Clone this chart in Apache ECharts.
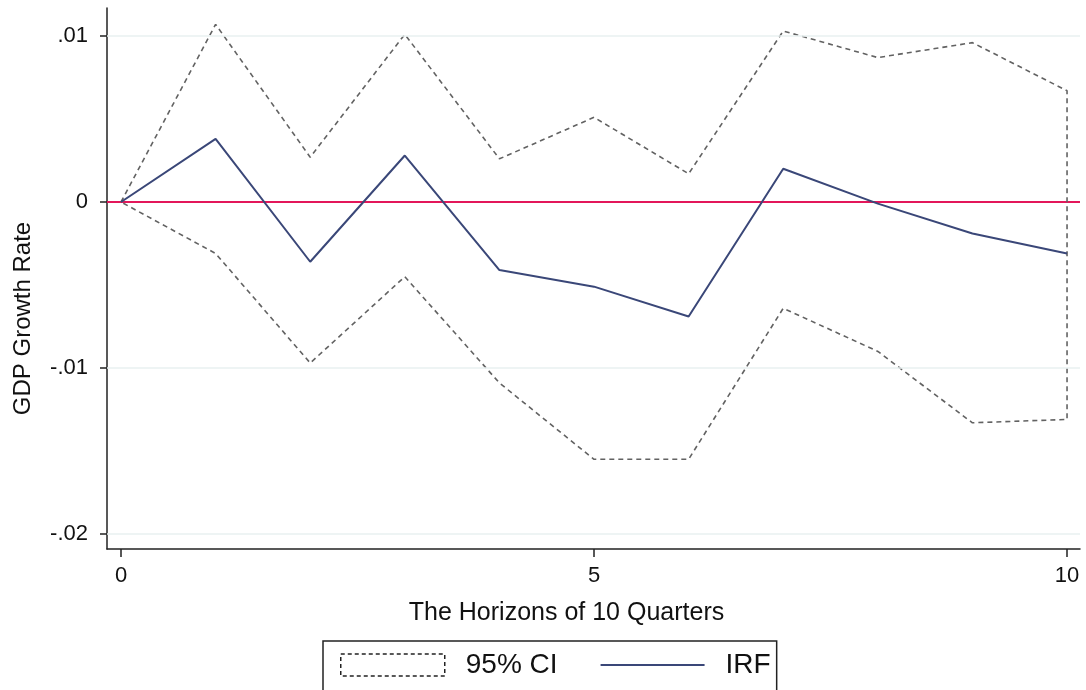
<!DOCTYPE html>
<html>
<head>
<meta charset="utf-8">
<script src="https://cdn.jsdelivr.net/npm/echarts@6/dist/echarts.min.js"></script>
<style>
html,body{margin:0;padding:0;background:#fff;}
#chart{width:1086px;height:690px;}
</style>
</head>
<body>
<div id="chart"></div>
<script>
// ---- data ----
const horizons = [0, 1, 2, 3, 4, 5, 6, 7, 8, 9, 10];
const irf      = [0, 0.0038, -0.0036, 0.0028, -0.0041, -0.0051, -0.0069, 0.0020, -0.0001, -0.0019, -0.0031];
const ciUpper  = [0, 0.0107, 0.0027, 0.0101, 0.0026, 0.0051, 0.0017, 0.0103, 0.0087, 0.0096, 0.0067];
const ciLower  = [0, -0.0031, -0.0097, -0.0045, -0.0109, -0.0155, -0.0155, -0.0064, -0.0090, -0.0133, -0.0131];
const xTickValues = [0, 5, 10];
const xTickLabels = ['0', '5', '10'];
const yTickValues = [-0.02, -0.01, 0, 0.01];
const yTickLabels = ['-.02', '-.01', '0', '.01'];
const gridValues  = [-0.02, -0.01, 0.01];
const seriesNames = ['95% CI', 'IRF'];

// closed CI outline: upper band left->right, then lower band right->left
const ciOutline = horizons.map((h, i) => [h, ciUpper[i]])
  .concat(horizons.slice().reverse().map(h => [h, ciLower[horizons.indexOf(h)]]));
const irfData = horizons.map((h, i) => [h, irf[i]]);

const font = 'Liberation Sans, Arial, sans-serif';
const chart = echarts.init(document.getElementById('chart'), null, {renderer: 'canvas'});
chart.setOption({
  animation: false,
  backgroundColor: '#ffffff',
  grid: {left: 107, right: 6, top: 8, bottom: 141},
  xAxis: {
    type: 'value',
    min: -0.148, max: 10.137,
    name: 'The Horizons of 10 Quarters',
    nameLocation: 'middle',
    nameGap: 52,
    nameTextStyle: {fontFamily: font, fontSize: 25, color: '#111', padding: [0, 54, 0, 0]},
    axisLine: {show: true, onZero: false, lineStyle: {color: '#222', width: 1.5}},
    axisTick: {show: true, length: 8, customValues: xTickValues, lineStyle: {color: '#222', width: 1.5}},
    axisLabel: {
      customValues: xTickValues, margin: 16,
      fontFamily: font, fontSize: 22, color: '#111',
      formatter: v => xTickLabels[xTickValues.indexOf(v)]
    },
    splitLine: {show: false}
  },
  yAxis: {
    type: 'value',
    min: -0.020904, max: 0.011687,
    name: 'GDP Growth Rate',
    nameLocation: 'middle',
    nameGap: 72,
    nameRotate: 90,
    nameTextStyle: {fontFamily: font, fontSize: 24, color: '#111', padding: [0, 80, 0, 0]},
    axisLine: {show: true, onZero: false, lineStyle: {color: '#222', width: 1.5}},
    axisTick: {show: true, length: 7, customValues: yTickValues, lineStyle: {color: '#222', width: 1.5}},
    axisLabel: {
      customValues: yTickValues, margin: 19,
      fontFamily: font, fontSize: 22, color: '#111',
      formatter: v => {
        const i = yTickValues.findIndex(t => Math.abs(t - v) < 1e-9);
        return i >= 0 ? yTickLabels[i] : '';
      }
    },
    splitLine: {show: false}
  },
  legend: {
    left: 323, top: 641,
    orient: 'horizontal',
    padding: [10, 6, 40, 17],
    borderColor: '#222', borderWidth: 1.5,
    itemWidth: 104, itemHeight: 22, itemGap: 42,
    textStyle: {fontFamily: font, fontSize: 28, color: '#111', padding: [0, 0, 0, 16]},
    data: [
      {name: seriesNames[0], icon: 'rect',
       itemStyle: {color: '#ffffff', borderColor: '#222', borderWidth: 1.5, borderType: [4, 3]}},
      {name: seriesNames[1], itemStyle: {opacity: 0}}
    ]
  },
  series: [
    {
      name: 'grid',
      type: 'line',
      data: [],
      silent: true,
      markLine: {
        silent: true, symbol: 'none', label: {show: false},
        lineStyle: {color: '#e8f0f1', width: 1.5, type: 'solid'},
        data: gridValues.map(v => ({yAxis: v}))
      }
    },
    {
      name: seriesNames[0],
      type: 'line',
      data: ciOutline,
      symbol: 'none',
      lineStyle: {color: '#626262', width: 1.6, type: [5, 4]},
      z: 3
    },
    {
      name: seriesNames[1],
      type: 'line',
      data: irfData,
      symbol: 'none',
      lineStyle: {color: '#3a4778', width: 2},
      z: 4,
      markLine: {
        silent: true, symbol: 'none', label: {show: false},
        lineStyle: {color: '#e3175a', width: 2, type: 'solid'},
        data: [{yAxis: 0}],
        z: 2
      }
    }
  ]
});
</script>
</body>
</html>
